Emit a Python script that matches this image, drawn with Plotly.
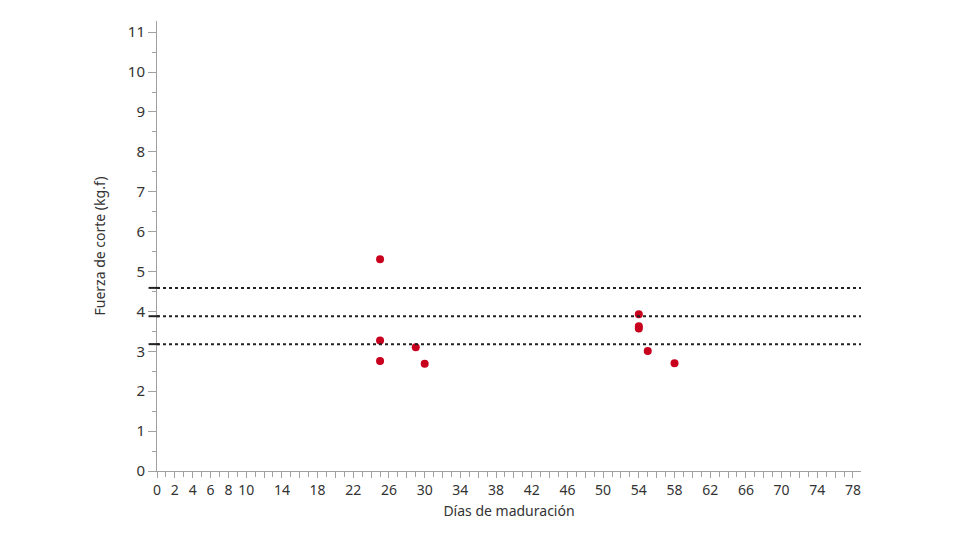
import plotly.graph_objects as go

# Data
dias = [25, 25, 25, 29, 30, 54, 54, 54, 55, 58]
fuerza = [5.31, 3.27, 2.76, 3.10, 2.69, 3.93, 3.63, 3.57, 3.01, 2.70]

ref_lines = [4.59, 3.88, 3.18]  # upper limit, mean, lower limit

x_tick_vals = list(range(0, 80, 2))
x_tick_shown = [0, 2, 4, 6, 8, 10, 14, 18, 22, 26, 30, 34, 38, 42, 46, 50,
                54, 58, 62, 66, 70, 74, 78]
x_tick_text = [str(v) if v in x_tick_shown else "" for v in x_tick_vals]
y_tick_vals = list(range(0, 12))

FONT = "Noto Sans"
AXIS_COL = "#a0a0a0"
TXT_COL = "#333333"

fig = go.Figure()
fig.add_trace(go.Scatter(
    x=dias, y=fuerza, mode="markers",
    marker=dict(color="#c8001e", size=8, line=dict(width=0)),
    showlegend=False, hoverinfo="x+y",
))

for v in ref_lines:
    fig.add_shape(type="line", xref="paper", x0=0, x1=1, yref="y", y0=v, y1=v,
                  line=dict(color="#222222", width=2, dash="dot"))
    fig.add_shape(type="line", xref="paper", x0=-0.012, x1=0.003, yref="y", y0=v, y1=v,
                  line=dict(color="#222222", width=2))

fig.update_layout(
    width=980, height=560,
    margin=dict(l=149, r=127, t=13, b=97),
    paper_bgcolor="white", plot_bgcolor="white",
    font=dict(family=FONT, size=14, color=TXT_COL),
    xaxis=dict(
        range=[0, 78.9], showgrid=False, zeroline=False,
        showline=True, linecolor=AXIS_COL, linewidth=1,
        tickmode="array", tickvals=x_tick_vals, ticktext=x_tick_text,
        ticks="outside", ticklen=6, tickcolor=AXIS_COL,
        minor=dict(dtick=1, ticks="outside", ticklen=5, tickcolor=AXIS_COL, showgrid=False),
        tickfont=dict(size=14, color=TXT_COL),
        title=dict(text="Días de maduración", font=dict(size=14, color=TXT_COL), standoff=8),
    ),
    yaxis=dict(
        range=[0, 11.28], showgrid=False, zeroline=False,
        showline=True, linecolor=AXIS_COL, linewidth=1,
        tickmode="array", tickvals=y_tick_vals,
        ticks="outside", ticklen=8, tickcolor=AXIS_COL,
        minor=dict(dtick=0.5, ticks="outside", ticklen=4, tickcolor=AXIS_COL, showgrid=False),
        tickfont=dict(size=15, color=TXT_COL),
        title=dict(text="Fuerza de corte (kg.f)", font=dict(size=14, color=TXT_COL), standoff=18),
    ),
)

fig.write_html("out.html")
